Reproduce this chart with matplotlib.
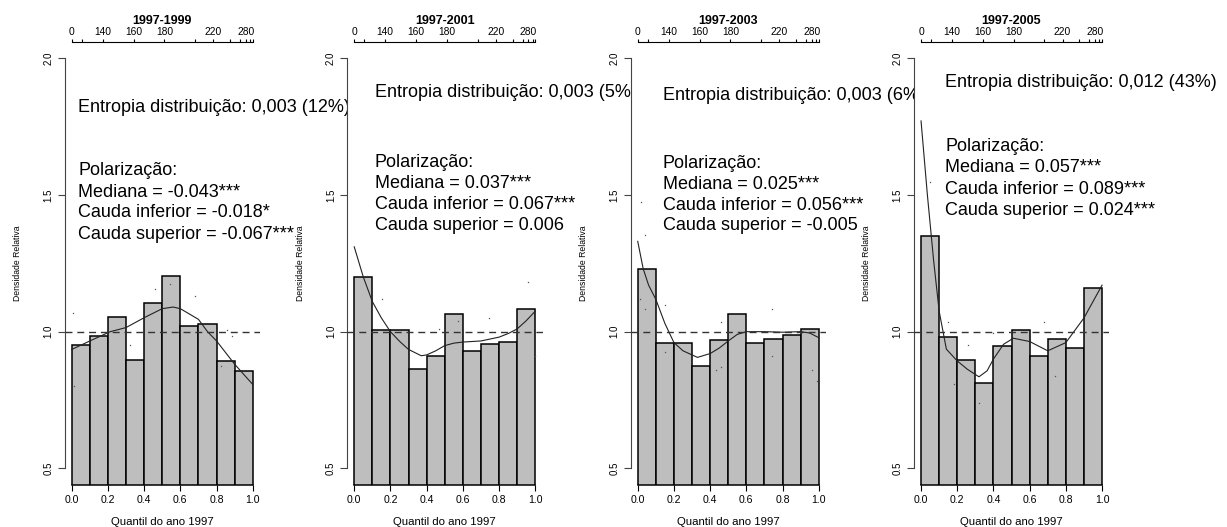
import matplotlib
matplotlib.use("Agg")
import matplotlib.pyplot as plt
import numpy as np

plt.rcParams['font.family'] = ['Liberation Sans', 'DejaVu Sans']

# periods compared with 1997
periodos = ["1997-1999", "1997-2001", "1997-2003", "1997-2005"]

# relative density histogram, 10 bins on quantile of 1997
bin_edges = [0.0, 0.1, 0.2, 0.3, 0.4, 0.5, 0.6, 0.7, 0.8, 0.9, 1.0]
dens_1999 = [0.951, 0.984, 1.053, 0.896, 1.103, 1.202, 1.020, 1.027, 0.893, 0.857]
dens_2001 = [1.201, 1.005, 1.005, 0.863, 0.912, 1.063, 0.930, 0.954, 0.963, 1.082]
dens_2003 = [1.228, 0.960, 0.960, 0.873, 0.969, 1.066, 0.960, 0.972, 0.988, 1.009]
dens_2005 = [1.348, 0.981, 0.897, 0.812, 0.948, 1.005, 0.912, 0.972, 0.942, 1.158]

# smoothed density curves
curva_x_1999 = [0.0, 0.1, 0.213, 0.3, 0.4, 0.5, 0.56, 0.6, 0.7, 0.75, 0.8, 0.9, 1.0]
curva_y_1999 = [0.935, 0.966, 1.0, 1.015, 1.051, 1.084, 1.09, 1.084, 1.045, 1.0, 0.966, 0.881, 0.807]
curva_x_2001 = [0.0, 0.05, 0.1, 0.15, 0.2, 0.25, 0.3, 0.37, 0.4, 0.45, 0.5, 0.55, 0.6, 0.7, 0.8, 0.85, 0.9, 0.95, 1.0]
curva_y_2001 = [1.31, 1.2, 1.11, 1.05, 1.0, 0.965, 0.935, 0.912, 0.915, 0.93, 0.949, 0.958, 0.962, 0.966, 0.98, 0.993, 1.01, 1.04, 1.075]
curva_x_2003 = [0.0, 0.03, 0.06, 0.1, 0.15, 0.2, 0.25, 0.33, 0.4, 0.45, 0.5, 0.55, 0.6, 0.7, 0.8, 0.9, 0.95, 1.0]
curva_y_2003 = [1.33, 1.23, 1.17, 1.118, 1.03, 0.96, 0.93, 0.906, 0.92, 0.94, 0.966, 0.99, 1.0, 1.0, 0.998, 1.0, 0.995, 0.978]
curva_x_2005 = [0.0, 0.035, 0.07, 0.1, 0.14, 0.2, 0.255, 0.32, 0.365, 0.4, 0.456, 0.51, 0.6, 0.7, 0.8, 0.9, 1.0]
curva_y_2005 = [1.77, 1.50, 1.257, 1.075, 0.936, 0.893, 0.863, 0.835, 0.857, 0.9, 0.954, 0.976, 0.964, 0.93, 0.96, 1.05, 1.17]

# raw points (tiny dots)
pts_x_1999 = [0.009, 0.013, 0.32, 0.46, 0.543, 0.68, 0.856, 0.825, 0.887]
pts_y_1999 = [1.068, 0.80, 0.95, 1.157, 1.175, 1.13, 1.006, 0.876, 0.984]
pts_x_2001 = [0.154, 0.468, 0.573, 0.747, 0.96, 0.996]
pts_y_2001 = [1.121, 1.009, 1.04, 1.05, 1.183, 0.912]
pts_x_2003 = [0.02, 0.04, 0.013, 0.04, 0.15, 0.15, 0.26, 0.462, 0.43, 0.46, 0.74, 0.74, 0.96, 0.99]
pts_y_2003 = [1.475, 1.355, 1.118, 1.084, 1.097, 0.926, 1.0, 1.036, 0.86, 0.87, 1.084, 0.912, 0.86, 0.82]
pts_x_2005 = [0.05, 0.15, 0.26, 0.18, 0.32, 0.4, 0.68, 0.74]
pts_y_2005 = [1.547, 1.036, 0.95, 0.81, 0.74, 0.996, 1.035, 0.837]

# annotations
entropia = ["Entropia distribuição: 0,003 (12%)", "Entropia distribuição: 0,003 (5%)",
            "Entropia distribuição: 0,003 (6%)", "Entropia distribuição: 0,012 (43%)"]
mediana = ["Mediana = -0.043***", "Mediana = 0.037***", "Mediana = 0.025***", "Mediana = 0.057***"]
cauda_inf = ["Cauda inferior = -0.018*", "Cauda inferior = 0.067***",
             "Cauda inferior = 0.056***", "Cauda inferior = 0.089***"]
cauda_sup = ["Cauda superior = -0.067***", "Cauda superior = 0.006",
             "Cauda superior = -0.005", "Cauda superior = 0.024***"]

# top axis: quantile -> value of 1997
top_ticks = [0, 0.055, 0.17, 0.342, 0.512, 0.681, 0.782, 0.875, 0.93, 0.962, 0.985, 1.0]
top_labels = ["0", "", "140", "160", "180", "", "220", "", "", "280", "", ""]

densidades = [dens_1999, dens_2001, dens_2003, dens_2005]
curvas = [(curva_x_1999, curva_y_1999), (curva_x_2001, curva_y_2001),
          (curva_x_2003, curva_y_2003), (curva_x_2005, curva_y_2005)]
pontos = [(pts_x_1999, pts_y_1999), (pts_x_2001, pts_y_2001),
          (pts_x_2003, pts_y_2003), (pts_x_2005, pts_y_2005)]

# layout (pixels of the 1227x527 figure)
W, H = 1227.0, 527.0
lefts = [64.5, 347.0, 630.5, 913.8]
ax_w, ax_top, ax_bot = 195.5, 41.6, 484.9
txt_x = [0.035, 0.114, 0.138, 0.133]
txt_y = [(1.82, 1.59, 1.51, 1.435, 1.355),
         (1.874, 1.62, 1.541, 1.464, 1.387),
         (1.863, 1.613, 1.536, 1.46, 1.387),
         (1.91, 1.675, 1.60, 1.52, 1.444)]

fig = plt.figure(figsize=(12.27, 5.27), dpi=100)

for i in range(4):
    ax = fig.add_axes([lefts[i] / W, (H - ax_bot) / H, ax_w / W, (ax_bot - ax_top) / H])

    ax.bar(bin_edges[:-1], densidades[i], width=0.1, align='edge', bottom=0,
           color='#bebebe', edgecolor='black', linewidth=1.1, zorder=2)
    ax.plot(curvas[i][0], curvas[i][1], color='#222222', lw=0.8, zorder=3)
    ax.plot(pontos[i][0], pontos[i][1], 's', ms=0.9, color='#555555', mec='none', zorder=3)
    ax.axhline(1.0, color='#333333', lw=1.0, ls=(0, (5, 3.5)), zorder=4)

    for s in ['right', 'top']:
        ax.spines[s].set_visible(False)
    ax.spines['left'].set_bounds(0.5, 2.0)
    ax.spines['left'].set_color('#444444')
    ax.spines['bottom'].set_bounds(0, 1)
    ax.spines['bottom'].set_linewidth(1.1)

    ax.set_xticks([0, 0.2, 0.4, 0.6, 0.8, 1.0])
    ax.set_xticklabels(["0.0", "0.2", "0.4", "0.6", "0.8", "1.0"])
    ax.tick_params(axis='x', length=4, width=0.8, pad=3, labelsize=7.6)

    ax.set_ylabel("Densidade Relativa", fontsize=6.2)
    ax.yaxis.set_label_coords(-0.217, 0.5)
    ax.set_xlabel("Quantil do ano 1997", fontsize=8.2)
    ax.xaxis.set_label_coords(0.5, -0.072)

    tw = ax.twiny()
    for s in ['right', 'left', 'bottom']:
        tw.spines[s].set_visible(False)
    tw.spines['top'].set_bounds(0, 1)
    tw.set_xticks(top_ticks)
    tw.set_xticklabels(top_labels)
    tw.tick_params(axis='x', length=2.5, width=0.8, pad=1, labelsize=7.4)
    tw.set_xlim(-0.04, 1.04)

    # y axis set after the twin, the twin shares it
    ax.set_xlim(-0.04, 1.04)
    ax.set_ylim(0.44, 2.06)
    ax.set_yticks([0.5, 1.0, 1.5, 2.0])
    ax.set_yticklabels(["0.5", "1.0", "1.5", "2.0"], rotation=90, va='center')
    ax.tick_params(axis='y', length=5, width=0.8, pad=3, labelsize=7, color='#444444')

    ax.text(0.5, 1.0 + (ax_top - 21) / (ax_bot - ax_top), periodos[i],
            transform=ax.get_xaxis_transform(), ha='center', va='center',
            fontsize=9, fontweight='bold')

    ty = txt_y[i]
    ax.text(txt_x[i], ty[0], entropia[i], fontsize=13, ha='left', va='center')
    ax.text(txt_x[i], ty[1], "Polarização:", fontsize=13, ha='left', va='center')
    ax.text(txt_x[i], ty[2], mediana[i], fontsize=13, ha='left', va='center')
    ax.text(txt_x[i], ty[3], cauda_inf[i], fontsize=13, ha='left', va='center')
    ax.text(txt_x[i], ty[4], cauda_sup[i], fontsize=13, ha='left', va='center')

fig.savefig("out.png", dpi=100)
